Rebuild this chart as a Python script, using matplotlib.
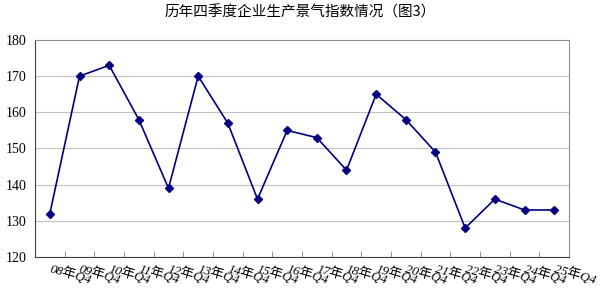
import matplotlib
matplotlib.use("Agg")
import matplotlib.pyplot as plt

plt.rcParams['font.family'] = ['Liberation Serif', 'Noto Sans CJK SC', 'DejaVu Sans']

years = ["08", "09", "10", "11", "12", "13", "14", "15", "16", "17",
         "18", "19", "20", "21", "22", "23", "24", "25"]
labels = [y + "年Q4" for y in years]
index_vals = [132, 170, 173, 158, 139, 170, 157, 136, 155, 153,
              144, 165, 158, 149, 128, 136, 133, 133]

fig = plt.figure(figsize=(6, 2.94), dpi=100)
ax = fig.add_axes([35 / 600, 1 - 257 / 294, 534 / 600, 217 / 294])

x = list(range(len(index_vals)))
ax.plot(x, index_vals, color='#000080', lw=1.2, marker='D', ms=4,
        mfc='#000080', mec='#000080')

ax.set_xlim(-0.5, len(x) - 0.5)
ax.set_ylim(120, 180)
ax.set_yticks(range(120, 181, 10))
ax.yaxis.grid(True, color='#c0c0c0', lw=0.8)
ax.set_axisbelow(True)
ax.tick_params(axis='y', length=0, labelsize=10, pad=6)

# category boundary ticks
ax.set_xticks([i + 0.5 for i in x[:-1]], minor=True)
ax.set_xticks(x)
ax.set_xticklabels(labels, rotation=-16, ha='left', va='center',
                   rotation_mode='anchor', fontsize=9.5, style='italic',
                   family=['Liberation Serif', 'Noto Sans CJK SC'])
ax.tick_params(axis='x', which='major', length=0, pad=8)
ax.tick_params(axis='x', which='minor', direction='in', length=4, color='#808080')

for s in ['left', 'bottom']:
    ax.spines[s].set_color('#404040')
for s in ['top', 'right']:
    ax.spines[s].set_color('#909090')

fig.text(0.5, 1 - 12 / 294, "历年四季度企业生产景气指数情况（图3）", ha='center', va='center',
         fontsize=10.5, family=['Noto Sans CJK SC', 'DejaVu Sans'])

fig.savefig("out.png", dpi=100)
